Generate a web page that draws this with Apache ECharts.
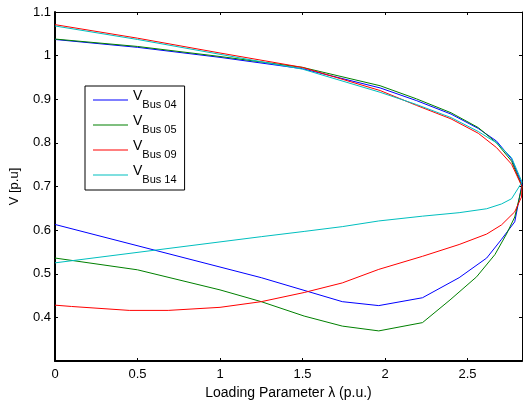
<!DOCTYPE html>
<html>
<head>
<meta charset="utf-8">
<script src="https://cdn.jsdelivr.net/npm/echarts@6/dist/echarts.min.js"></script>
<style>
  html, body { margin: 0; padding: 0; background: #fff; }
  #main { width: 523px; height: 405px; }
</style>
</head>
<body>
<div id="main"></div>
<script>
// PV curves: upper branch up to the nose, then lower branch back to lambda = 0
var busNames = ['Bus 04', 'Bus 05', 'Bus 09', 'Bus 14'];
var busColors = ['#0000ff', '#008000', '#ff0000', '#00bfbf'];

var bus04 = [
  [0, 1.037], [0.5, 1.019], [1.0, 0.996], [1.5, 0.970], [1.97, 0.926], [2.19, 0.897],
  [2.40, 0.866], [2.565, 0.833], [2.676, 0.804], [2.767, 0.763], [2.83, 0.705],
  [2.786, 0.619], [2.706, 0.579], [2.616, 0.536], [2.449, 0.491], [2.227, 0.445],
  [1.962, 0.427], [1.741, 0.436], [1.25, 0.491], [0, 0.613]
];
var bus05 = [
  [0, 1.038], [0.5, 1.021], [1.0, 0.998], [1.5, 0.973], [1.97, 0.931], [2.19, 0.901],
  [2.40, 0.869], [2.565, 0.835], [2.676, 0.800], [2.767, 0.758], [2.83, 0.70],
  [2.786, 0.630], [2.736, 0.591], [2.666, 0.544], [2.555, 0.493], [2.394, 0.440],
  [2.227, 0.388], [1.962, 0.369], [1.741, 0.380], [1.51, 0.403], [1.25, 0.436],
  [1.0, 0.463], [0.5, 0.509], [0, 0.536]
];
var bus09 = [
  [0, 1.071], [0.5, 1.040], [1.0, 1.006], [1.5, 0.973], [1.97, 0.920], [2.19, 0.886],
  [2.40, 0.855], [2.565, 0.822], [2.676, 0.789], [2.767, 0.751], [2.83, 0.70],
  [2.827, 0.676], [2.786, 0.642], [2.706, 0.612], [2.616, 0.591], [2.449, 0.567],
  [2.227, 0.540], [1.962, 0.510], [1.741, 0.479], [1.51, 0.457], [1.25, 0.436],
  [1.0, 0.423], [0.686, 0.416], [0.45, 0.416], [0.1, 0.425], [0, 0.428]
];
var bus14 = [
  [0, 1.068], [0.5, 1.037], [1.0, 1.003], [1.5, 0.969], [1.97, 0.916], [2.19, 0.888],
  [2.40, 0.858], [2.565, 0.826], [2.676, 0.800], [2.767, 0.766], [2.83, 0.71],
  [2.767, 0.672], [2.706, 0.660], [2.616, 0.649], [2.449, 0.640], [2.227, 0.632],
  [1.962, 0.621], [1.741, 0.608], [1.51, 0.597], [1.25, 0.585], [0, 0.525]
];
var busData = [bus04, bus05, bus09, bus14];

var chart = echarts.init(document.getElementById('main'));

var font = 'Liberation Sans, Arial, sans-serif';

// secondary axes only draw the box and the inner ticks at top / right
var xCommon = { type: 'value', min: 0, max: 2.83, interval: 0.5 };
var yCommon = { type: 'value', min: 0.3, max: 1.1, interval: 0.1 };

var series = busNames.map(function (name, i) {
  return {
    name: name,
    type: 'line',
    data: busData[i],
    showSymbol: false,
    symbol: 'none',
    itemStyle: { color: busColors[i] },
    lineStyle: { width: 1, color: busColors[i] }
  };
});

chart.setOption({
  animation: false,
  backgroundColor: '#fff',
  color: busColors,
  grid: { left: 53, right: 1, top: 12, bottom: 39 },
  legend: {
    orient: 'vertical',
    left: 85,
    top: 86,
    data: busNames,
    icon: 'rect',
    itemWidth: 35,
    itemHeight: 1,
    itemGap: 4,
    padding: [3, 8, 5, 8],
    borderColor: '#000',
    borderWidth: 1,
    backgroundColor: '#fff',
    formatter: function (name) {
      return '{v|V}{s|' + name + '}';
    },
    textStyle: {
      color: '#000',
      fontFamily: font,
      rich: {
        v: { fontSize: 14, fontFamily: font, color: '#000', padding: [0, 0, 8, 0] },
        s: { fontSize: 11, fontFamily: font, color: '#000', padding: [9, 0, 0, 0] }
      }
    }
  },
  xAxis: [
    Object.assign({}, xCommon, {
      position: 'bottom',
      name: 'Loading Parameter \u03bb (p.u.)',
      nameLocation: 'middle',
      nameGap: 25,
      nameTextStyle: { color: '#000', fontSize: 14, fontFamily: font },
      axisLine: { lineStyle: { color: '#000', width: 2 } },
      axisTick: { inside: true, length: 3, lineStyle: { color: '#000' } },
      axisLabel: { color: '#000', fontSize: 13, fontFamily: font, margin: 7, showMaxLabel: false },
      splitLine: { show: false }
    }),
    Object.assign({}, xCommon, {
      position: 'top',
      axisLine: { onZero: false, lineStyle: { color: '#000', width: 1 } },
      axisTick: { inside: true, length: 3, lineStyle: { color: '#000' } },
      axisLabel: { show: false },
      splitLine: { show: false }
    })
  ],
  yAxis: [
    Object.assign({}, yCommon, {
      position: 'left',
      name: 'V [p.u]',
      nameLocation: 'middle',
      nameGap: 34,
      nameTextStyle: { color: '#000', fontSize: 13, fontFamily: font },
      axisLine: { onZero: false, lineStyle: { color: '#000', width: 2 } },
      axisTick: { inside: true, length: 3, lineStyle: { color: '#000' } },
      axisLabel: { color: '#000', fontSize: 13, fontFamily: font, margin: 4, showMinLabel: false },
      splitLine: { show: false }
    }),
    Object.assign({}, yCommon, {
      position: 'right',
      axisLine: { onZero: false, lineStyle: { color: '#000', width: 1 } },
      axisTick: { inside: true, length: 3, lineStyle: { color: '#000' } },
      axisLabel: { show: false },
      splitLine: { show: false }
    })
  ],
  series: series
});
</script>
</body>
</html>
